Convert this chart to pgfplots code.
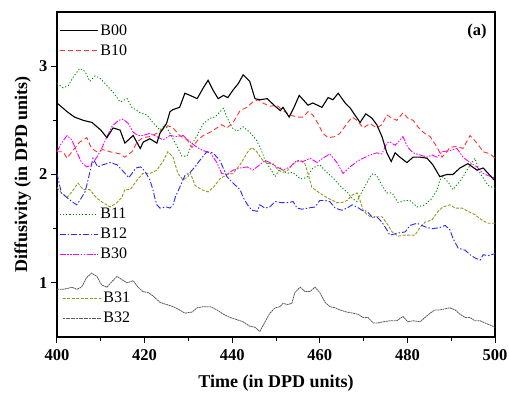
\documentclass[border=0pt]{standalone}
\usepackage{pgfplots}
\pgfplotsset{compat=1.18}
\usepackage{fontspec}
\setmainfont{Liberation Serif}
\definecolor{cB10}{RGB}{255,50,50}
\definecolor{cB11}{RGB}{0,140,0}
\definecolor{cB12}{RGB}{40,40,255}
\definecolor{cB30}{RGB}{255,0,255}
\definecolor{cB31}{RGB}{150,150,30}
\definecolor{cB32}{RGB}{90,90,90}
\tikzset{
  sB00/.style={draw=black, line width=1.1pt, solid},
  sB10/.style={draw=cB10, line width=0.9pt, dash pattern=on 5pt off 3pt},
  sB11/.style={draw=cB11, line width=0.9pt, dash pattern=on 1.2pt off 2pt},
  sB12/.style={draw=cB12, line width=0.9pt, dash pattern=on 6pt off 2pt on 1.5pt off 2pt},
  sB30/.style={draw=cB30, line width=0.9pt, dash pattern=on 6pt off 1.5pt on 1.5pt off 1.5pt on 1.5pt off 1.5pt},
  sB31/.style={draw=cB31, line width=0.9pt, dash pattern=on 3pt off 1.5pt},
  sB32/.style={draw=cB32, line width=0.8pt, dash pattern=on 2pt off 0.6pt},
}
\pgfplotsset{
  legbase/.style={
    at={(0,0)}, anchor=south west, scale only axis, width=438pt, height=325pt,
    xmin=400, xmax=500, ymin=0.5, ymax=3.5, hide axis,
    legend cell align=left,
    legend image code/.code={\draw[##1, line width=1pt] (0pt,0pt) -- (38pt,0pt);},
    legend style={draw=none, fill=none, inner sep=0pt, font=\fontsize{16}{18}\selectfont,
      row sep=4pt, anchor=north west, /tikz/every even column/.append style={column sep=2pt}},
  }
}
\begin{document}
\begin{tikzpicture}
\begin{axis}[
  at={(0,0)}, anchor=south west, scale only axis, width=438pt, height=325pt,
  xmin=400, xmax=500, ymin=0.5, ymax=3.5,
  xtick={400,420,...,500}, minor xtick={410,430,...,490},
  ytick={1,2,3}, minor ytick={1.5,2.5},
  xtick pos=bottom, ytick pos=left, tick align=outside,
  major tick length=6pt, minor tick length=4pt,
  every tick/.style={black, line width=1pt},
  axis line style={line width=1.2pt},
  /pgf/number format/assume math mode=true,
  ticklabel style={font=\fontsize{16.5}{18}\selectfont\bfseries},
  xticklabel style={yshift=-3pt},
  xlabel={Time (in DPD units)}, ylabel={Diffusivity (in DPD units)},
  label style={font=\fontsize{18}{20}\selectfont\bfseries},
  xlabel style={at={(axis description cs:0.5,-0.1415)}, anchor=center},
  ylabel style={at={(axis description cs:-0.078,0.5)}, anchor=center},
  clip=true,
]
% B32
\addplot[sB32] coordinates {
(400,0.94)(401.4,0.94)(402.6,0.95)(403.4,0.96)(404.5,0.94)(405.6,0.96)(406.8,1.05)(407.9,1.09)(409.1,1.06)(410.2,0.98)
(411.4,0.96)(412.5,1.01)(413.7,1.06)(414.8,1.03)(416,1.00)(417.4,1.02)(418.5,0.96)(419.6,0.92)(420.8,0.91)(421.9,0.88)
(423.5,0.82)(425,0.80)(426.5,0.78)(428,0.75)(429.2,0.72)(430.8,0.73)(432,0.77)(433.4,0.78)(435,0.78)(436.5,0.75)
(438,0.71)(439.5,0.68)(441.1,0.66)(442.5,0.64)(444,0.60)(445.2,0.59)(446.3,0.55)(447.5,0.64)(448.6,0.72)(449.8,0.77)
(450.9,0.78)(451.6,0.81)(452.7,0.80)(453.6,0.81)(454.3,0.91)(455.5,0.96)(456.6,0.92)(457.8,0.92)(458.9,0.96)(460,0.91)
(461.2,0.82)(462.3,0.78)(463.5,0.77)(464.6,0.75)(466.2,0.73)(467.6,0.72)(468.7,0.71)(469.9,0.68)(471,0.68)(472.2,0.63)
(473.3,0.63)(474.5,0.64)(476,0.65)(477.6,0.65)(479,0.69)(480.1,0.64)(481.3,0.65)(482.9,0.64)(484,0.68)(485.2,0.72)
(486.3,0.75)(487.4,0.75)(488.6,0.76)(489.7,0.77)(490.9,0.75)(492,0.71)(493.2,0.68)(494.3,0.68)(495.4,0.65)(496.6,0.65)
(497.7,0.63)(498.9,0.61)(500,0.59)};
% B31
\addplot[sB31] coordinates {
(400,1.88)(401,1.83)(402.3,1.79)(403.4,1.84)(404.8,1.92)(406,1.86)(407.5,1.86)(409.1,1.78)(410.5,1.74)(412.1,1.70)
(413.7,1.74)(414.8,1.79)(415.5,1.86)(416.7,1.86)(418.3,1.95)(419.6,2.01)(421.2,2.01)(422.8,2.04)(424.2,2.12)(425.3,2.21)
(426.5,2.16)(427.6,2.01)(428.8,1.95)(429.9,1.98)(430.4,2.02)(431.5,1.90)(433,1.86)(434.5,1.84)(435.9,1.89)(437.2,1.96)
(438.8,2.00)(440.2,2.01)(441.8,2.09)(443.4,2.20)(444.5,2.25)(445.6,2.21)(447,2.13)(448.2,2.10)(449.3,2.10)(450.5,2.04)
(451.6,2.02)(452.7,2.04)(453.9,2.10)(455.5,2.13)(456.6,2.10)(457.3,2.01)(458.2,1.88)(459.6,1.84)(460.7,1.81)(461.9,1.78)
(463,1.76)(463.9,1.74)(465,1.74)(466.2,1.76)(467.4,1.81)(468.5,1.83)(469.2,1.76)(469.9,1.67)(470.8,1.63)(471.9,1.60)
(473,1.61)(474.2,1.61)(475.3,1.55)(476.5,1.47)(477.9,1.43)(479,1.44)(480.6,1.44)(481.7,1.44)(482.9,1.51)(484,1.56)
(485.6,1.58)(487,1.66)(488.1,1.70)(489.7,1.72)(490.9,1.69)(492.5,1.69)(493.8,1.66)(495.4,1.63)(497,1.58)(498.4,1.55)
(500,1.55)};
% B30
\addplot[sB30] coordinates {
(400,2.21)(401,2.29)(402.3,2.36)(403.4,2.32)(404.5,2.21)(405.6,2.11)(406.8,2.07)(407.9,2.09)(409.1,2.16)(410.2,2.24)
(411.4,2.35)(412.5,2.44)(414,2.50)(415.1,2.51)(416.3,2.47)(417.4,2.39)(418.5,2.36)(419.6,2.36)(421.2,2.38)(422.8,2.35)
(424.2,2.32)(425.8,2.36)(427.4,2.35)(428.8,2.36)(430.4,2.30)(432,2.25)(433.4,2.22)(435,2.20)(436.5,2.11)(437.6,2.01)
(438.8,2.00)(440.2,2.04)(441.8,2.06)(443.4,2.07)(444.7,2.04)(446.3,2.09)(447.5,2.13)(448.6,2.11)(450.2,2.07)(451.6,2.04)
(453.2,2.07)(454.8,2.13)(456.2,2.12)(457.8,2.15)(459.4,2.11)(460.7,2.15)(462.3,2.19)(463.9,2.11)(465.3,2.01)(466.9,2.07)
(468.5,2.12)(469.9,2.15)(471.5,2.18)(473,2.20)(474.2,2.19)(475.3,2.29)(476,2.30)(477.2,2.27)(478.3,2.32)(479,2.35)
(480.1,2.25)(481.3,2.20)(482.9,2.18)(484.5,2.16)(485.6,2.18)(486.8,2.16)(487.9,2.21)(489.7,2.22)(491.3,2.24)(492.7,2.16)
(494.3,2.11)(495.9,2.07)(497.3,2.01)(498.4,1.99)(500,1.97)};
% B12
\addplot[sB12] coordinates {
(400,2.01)(401,1.83)(402.2,1.79)(403.4,1.75)(404.5,1.72)(405.2,1.76)(406.4,1.84)(407.1,1.95)(408.2,2.15)(409.3,2.07)
(410.5,2.09)(412.1,2.11)(413.7,2.09)(415.1,2.03)(416.4,1.97)(418,2.06)(419.1,2.07)(420.1,2.03)(421.2,1.95)(421.9,1.86)
(422.3,1.79)(422.8,1.72)(423.5,1.69)(425,1.70)(425.8,1.69)(426.5,1.72)(427,1.79)(428,1.88)(429.2,1.99)(430.4,2.02)
(431.5,2.07)(432.6,2.13)(434.2,2.21)(435.6,2.20)(437.2,2.13)(438.8,1.98)(440.2,1.92)(441.8,1.86)(442.5,1.79)(443.5,1.72)
(444.5,1.67)(445.7,1.66)(446.3,1.72)(447.5,1.69)(448.6,1.70)(449.8,1.75)(451.3,1.74)(452.7,1.74)(453.9,1.75)(454.8,1.69)
(455.9,1.68)(457.3,1.69)(458.9,1.70)(460,1.76)(461.2,1.76)(462.3,1.75)(463.5,1.69)(465,1.67)(466.2,1.69)(467.4,1.72)
(468.5,1.70)(469.6,1.67)(470.8,1.66)(471.9,1.61)(473,1.61)(474.2,1.56)(475.3,1.49)(476,1.44)(477.9,1.46)(479.5,1.47)
(480.6,1.53)(482.2,1.55)(483.3,1.53)(484.5,1.51)(485.8,1.50)(487.4,1.51)(488.6,1.53)(489.7,1.49)(490.4,1.41)(491.6,1.32)
(493.2,1.30)(494.3,1.26)(495.4,1.23)(496.6,1.21)(497.3,1.26)(498.4,1.25)(500,1.27)};
% B11
\addplot[sB11] coordinates {
(400,2.84)(401.4,2.80)(402.6,2.82)(403.7,2.90)(405.2,2.98)(406.4,2.95)(407.5,2.86)(408.7,2.91)(409.8,2.89)(411.4,2.82)
(412.8,2.76)(414.4,2.67)(416,2.70)(417.1,2.62)(419,2.57)(420.5,2.55)(421.9,2.48)(423.5,2.41)(424.7,2.46)(425.8,2.38)
(427.4,2.26)(428.5,2.17)(429.7,2.17)(430.8,2.28)(432,2.36)(433.4,2.47)(435,2.52)(436.1,2.53)(437.2,2.58)(438,2.61)
(438.8,2.53)(440,2.43)(441.1,2.40)(442.5,2.44)(444,2.39)(445.5,2.32)(446.6,2.23)(447.5,2.13)(448.6,2.06)(449.8,1.98)
(451,2.06)(452.5,2.01)(453.9,2.02)(455.5,1.96)(457,1.97)(458.4,2.06)(460,2.09)(461.6,2.02)(463,1.97)(465,1.88)
(466.2,1.84)(467.4,1.78)(468.5,1.75)(469.2,1.81)(470.3,1.89)(471.5,1.98)(472.2,2.01)(473,1.99)(474.2,1.90)(475.3,1.83)
(476.5,1.83)(477.9,1.74)(479.5,1.76)(480.6,1.76)(482.2,1.70)(484,1.72)(485.6,1.78)(486.8,1.86)(487.4,1.95)(488.1,1.98)
(489.3,1.93)(490.4,1.86)(491.6,1.92)(492.7,1.98)(493.6,2.04)(495.4,2.15)(496.6,2.01)(498.4,1.90)(500,1.87)};
% B10
\addplot[sB10] coordinates {
(400,2.21)(401.4,2.21)(402.3,2.15)(403.4,2.21)(405.2,2.30)(406.8,2.34)(407.9,2.24)(409.1,2.21)(410.5,2.23)(412.1,2.21)
(414.4,2.19)(415.5,2.16)(417.1,2.21)(418.3,2.30)(419.6,2.34)(421.2,2.35)(422.8,2.38)(424.2,2.42)(425.3,2.45)(426.5,2.43)
(428,2.36)(429.7,2.32)(430.8,2.25)(432.2,2.32)(433.4,2.36)(435,2.39)(436.5,2.43)(437.6,2.46)(438.8,2.43)(440.2,2.48)
(441.8,2.59)(443.4,2.62)(444.7,2.67)(445.9,2.69)(447,2.66)(448.6,2.63)(450.2,2.64)(451.6,2.59)(453.2,2.55)(454.8,2.53)
(456.2,2.53)(457.3,2.58)(458.4,2.55)(459.6,2.47)(460.7,2.38)(461.9,2.34)(463.5,2.35)(464.6,2.38)(466.2,2.47)(467.4,2.53)
(468.5,2.50)(469.9,2.43)(471.5,2.47)(473,2.43)(474.2,2.46)(475.3,2.55)(476.5,2.52)(477.6,2.50)(479,2.57)(480.1,2.52)
(481.3,2.50)(482.4,2.44)(483.6,2.39)(485.2,2.35)(486.8,2.25)(487.9,2.16)(489,2.21)(489.7,2.25)(491.3,2.26)(492.7,2.24)
(494.3,2.36)(495.9,2.29)(497.3,2.21)(498.9,2.19)(500,2.15)};
% B00
\addplot[sB00] coordinates {
(400,2.66)(402.3,2.58)(404,2.53)(406,2.50)(408,2.48)(410,2.41)(411.4,2.34)(412.8,2.43)(414.4,2.41)(415.5,2.29)
(417.4,2.36)(419,2.24)(419.7,2.30)(421.2,2.33)(422.8,2.29)(423.5,2.38)(425,2.47)(425.8,2.58)(426.5,2.60)(428,2.62)
(429.2,2.75)(430.4,2.73)(432,2.70)(433.4,2.80)(434.5,2.87)(435.6,2.78)(436.8,2.70)(438,2.73)(439,2.71)(440.2,2.78)
(441.4,2.84)(442.5,2.92)(444,2.86)(445.2,2.70)(446.3,2.69)(448,2.70)(449.8,2.63)(451,2.59)(451.6,2.62)(453,2.53)
(454,2.61)(455.3,2.73)(456.2,2.69)(457.3,2.64)(458.4,2.66)(460.5,2.62)(461.9,2.71)(463,2.69)(464.2,2.75)(465.8,2.66)
(467,2.61)(468,2.55)(469.2,2.48)(470.5,2.56)(471.9,2.52)(473,2.46)(474.2,2.35)(475.3,2.20)(476.3,2.12)(477.2,2.20)
(478.3,2.16)(479.9,2.11)(481.3,2.16)(482.9,2.16)(484.5,2.15)(485.8,2.09)(487.4,1.98)(489,2.00)(490.4,2.00)(492,2.06)
(493.8,2.10)(495.9,2.04)(497.3,2.06)(498.9,1.99)(500,1.94)};
\node[font=\fontsize{16.5}{18}\selectfont\bfseries] at (rel axis cs:0.959,0.94) {(a)};
\end{axis}
\begin{axis}[legbase, legend style={at={(axis description cs:0.005,0.968)}}]
\addlegendimage{sB00}\addlegendentry{B00}
\addlegendimage{sB10}\addlegendentry{B10}
\end{axis}
\begin{axis}[legbase, legend style={at={(axis description cs:0.005,0.4035)}}]
\addlegendimage{sB11}\addlegendentry{B11}
\addlegendimage{sB12}\addlegendentry{B12}
\addlegendimage{sB30}\addlegendentry{B30}
\end{axis}
\begin{axis}[legbase, legend style={at={(axis description cs:0.012,0.145)}}]
\addlegendimage{sB31}\addlegendentry{B31}
\addlegendimage{sB32}\addlegendentry{B32}
\end{axis}
\pgfresetboundingbox
\path[use as bounding box] (-57pt,-57pt) rectangle (452pt,337pt);
\end{tikzpicture}
\end{document}
